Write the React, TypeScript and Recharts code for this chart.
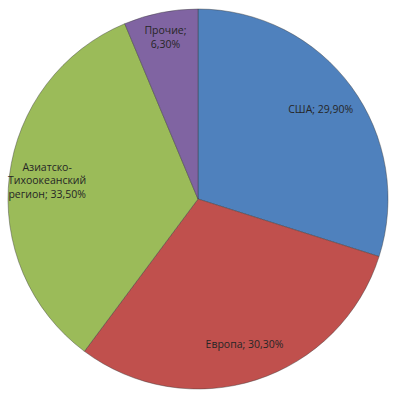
import React from "react";
import { PieChart, Pie, Cell } from "recharts";

const categories = ["США", "Европа", "Азиатско-Тихоокеанский регион", "Прочие"];
const shares = [29.9, 30.3, 33.5, 6.3];
const colors = ["#4F81BD", "#C0504D", "#9BBB59", "#8064A2"];

const data = categories.map((name, i) => ({ name, value: shares[i] }));

const RAD = Math.PI / 180;

function wrapText(text: string, maxChars: number): string[] {
  const tokens: string[] = [];
  text.split(" ").forEach((w) => {
    const parts = w.split(/(?<=-)/);
    parts.forEach((p) => tokens.push(p));
  });
  const lines: string[] = [];
  let cur = "";
  tokens.forEach((t) => {
    if (!cur) {
      cur = t;
      return;
    }
    const joiner = cur.endsWith("-") ? "" : " ";
    if ((cur + joiner + t).length <= maxChars) cur = cur + joiner + t;
    else {
      lines.push(cur);
      cur = t;
    }
  });
  if (cur) lines.push(cur);
  return lines;
}

const renderLabel = (props: any) => {
  const { cx, cy, midAngle, outerRadius, name, value, percent } = props;
  const small = percent < 0.1;
  const r = outerRadius * (small ? 0.87 : 0.8);
  const x = cx + r * Math.cos(-midAngle * RAD);
  const y = cy + r * Math.sin(-midAngle * RAD);
  const text = `${name}; ${value.toFixed(2).replace(".", ",")}%`;
  const lines = wrapText(text, small ? 10 : 15);
  const lh = 13.5;
  const y0 = y - ((lines.length - 1) * lh) / 2;
  return (
    <text
      x={x}
      y={y0}
      textAnchor="middle"
      dominantBaseline="central"
      fill="#262626"
      fontSize={10.5}
      fontFamily="'Open Sans', 'Noto Sans', sans-serif"
    >
      {lines.map((l, i) => (
        <tspan key={i} x={x} y={y0 + i * lh} dominantBaseline="central">
          {l}
        </tspan>
      ))}
    </text>
  );
};

export default function App() {
  return (
    <div
      style={{
        position: "absolute",
        left: 0,
        top: 0,
        width: 396,
        height: 400,
        background: "#ffffff",
      }}
    >
      <PieChart
        width={396}
        height={400}
        margin={{ top: 0, right: 0, bottom: 0, left: 0 }}
      >
        <Pie
          data={data}
          dataKey="value"
          nameKey="name"
          cx={198}
          cy={199}
          outerRadius={190}
          startAngle={90}
          endAngle={-270}
          isAnimationActive={false}
          label={renderLabel}
          labelLine={false}
          stroke="rgba(60,60,60,0.55)"
          strokeWidth={0.8}
        >
          {data.map((d, i) => (
            <Cell key={d.name} fill={colors[i]} />
          ))}
        </Pie>
      </PieChart>
    </div>
  );
}
